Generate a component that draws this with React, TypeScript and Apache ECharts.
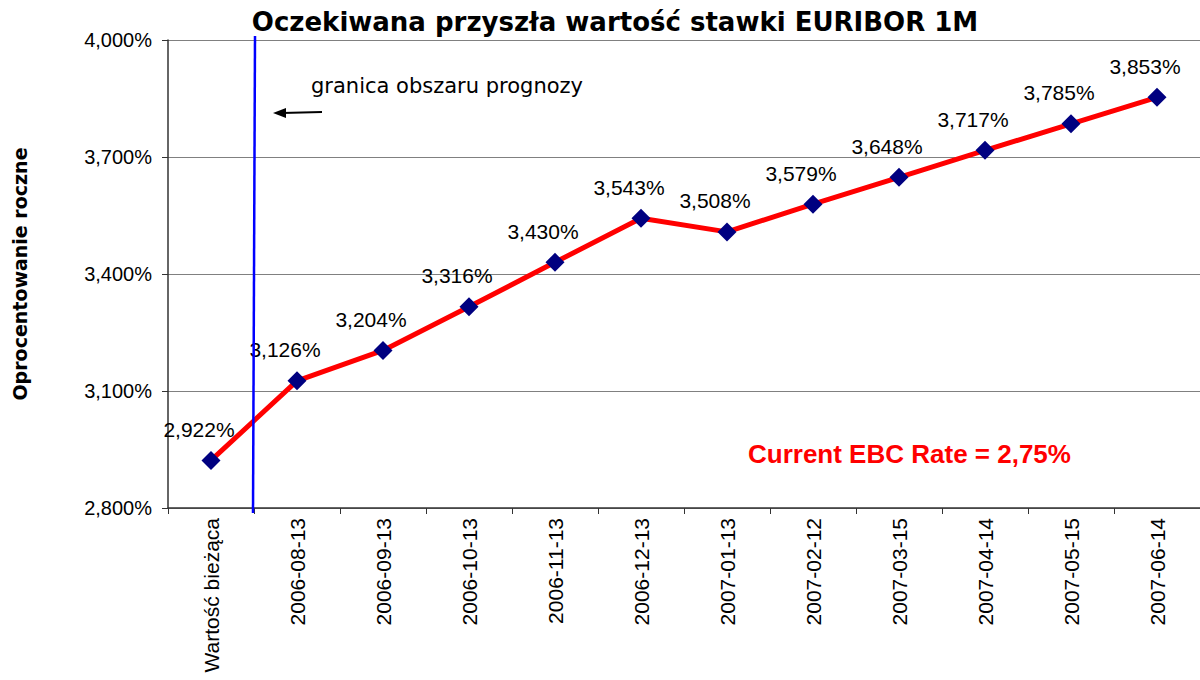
import React, { useEffect, useRef } from "react";
import * as echarts from "echarts";

const categories = [
  "Wartość bieżąca",
  "2006-08-13",
  "2006-09-13",
  "2006-10-13",
  "2006-11-13",
  "2006-12-13",
  "2007-01-13",
  "2007-02-12",
  "2007-03-15",
  "2007-04-14",
  "2007-05-15",
  "2007-06-14",
];
const rates = [2.922, 3.126, 3.204, 3.316, 3.43, 3.543, 3.508, 3.579, 3.648, 3.717, 3.785, 3.853];
const axisBase = 2.8;
const axisTop = 4.0;
const axisStep = 0.3;

const fmt = (v: number) => v.toFixed(3).replace(".", ",") + "%";

export default function App() {
  const ref = useRef<HTMLDivElement>(null);
  useEffect(() => {
    if (!ref.current) return;
    const chart = echarts.init(ref.current, null, { renderer: "svg" });
    chart.setOption({
      animation: false,
      backgroundColor: "#ffffff",
      title: {
        text: "Oczekiwana przyszła wartość stawki EURIBOR 1M",
        left: 610,
        top: 4,
        textAlign: "center",
        textStyle: {
          fontFamily: "DejaVu Sans",
          fontWeight: "bold",
          fontSize: 26,
          color: "#000",
        },
      },
      grid: {
        left: 168,
        right: 0,
        top: 40,
        bottom: 172,
        containLabel: false,
        outerBoundsMode: "none",
      },
      xAxis: {
        type: "category",
        data: categories,
        boundaryGap: true,
        axisLine: { lineStyle: { color: "#333", width: 1.5 } },
        axisTick: { show: true, length: 6, lineStyle: { color: "#333" } },
        axisLabel: {
          rotate: 90,
          interval: 0,
          margin: 10,
          fontFamily: "Liberation Sans",
          fontSize: 21,
          color: "#000",
        },
      },
      yAxis: {
        type: "value",
        min: 0,
        max: axisTop - axisBase,
        interval: axisStep,
        name: "Oprocentowanie roczne",
        nameLocation: "middle",
        nameRotate: 90,
        nameGap: 139,
        nameTextStyle: {
          fontFamily: "DejaVu Sans",
          fontWeight: "bold",
          fontSize: 19,
          color: "#000",
        },
        axisLine: { show: true, lineStyle: { color: "#333", width: 1.5 } },
        axisTick: { show: true, length: 6, lineStyle: { color: "#333" } },
        axisLabel: {
          margin: 16,
          fontFamily: "Liberation Sans",
          fontSize: 20,
          color: "#000",
          formatter: (v: number) => fmt(axisBase + v),
        },
        splitLine: { show: true, lineStyle: { color: "#808080", width: 1 } },
      },
      series: [
        {
          type: "line",
          data: rates.map((r) => +(r - axisBase).toFixed(4)),
          lineStyle: { color: "#ff0000", width: 5 },
          itemStyle: { color: "#000080" },
          symbol: "diamond",
          symbolSize: 19,
          showAllSymbol: true,
          label: {
            show: true,
            position: "top",
            distance: 11,
            offset: [-12, 0],
            fontFamily: "Liberation Sans",
            fontSize: 21,
            color: "#000",
            formatter: (p: any) => fmt(rates[p.dataIndex]),
          },
        },
      ],
      graphic: [
        {
          type: "line",
          shape: { x1: 255, y1: 36, x2: 253, y2: 513 },
          style: { stroke: "#0000ff", lineWidth: 2.5 },
          z: 10,
        },
        {
          type: "text",
          left: 311,
          top: 75,
          style: {
            text: "granica obszaru prognozy",
            fontFamily: "DejaVu Sans",
            fontSize: 21,
            fill: "#000",
          },
        },
        {
          type: "line",
          shape: { x1: 322, y1: 112, x2: 282, y2: 113 },
          style: { stroke: "#000", lineWidth: 2 },
        },
        {
          type: "polygon",
          shape: { points: [[273, 113], [286, 108], [286, 118]] },
          style: { fill: "#000" },
        },
        {
          type: "text",
          left: 748,
          top: 441,
          style: {
            text: "Current EBC Rate = 2,75%",
            fontFamily: "Liberation Sans",
            fontWeight: "bold",
            fontSize: 26,
            fill: "#ff0000",
          },
        },
      ],
    });
    return () => chart.dispose();
  }, []);
  return (
    <div
      ref={ref}
      style={{ position: "fixed", left: 0, top: 0, width: 1200, height: 680, background: "#fff" }}
    />
  );
}
